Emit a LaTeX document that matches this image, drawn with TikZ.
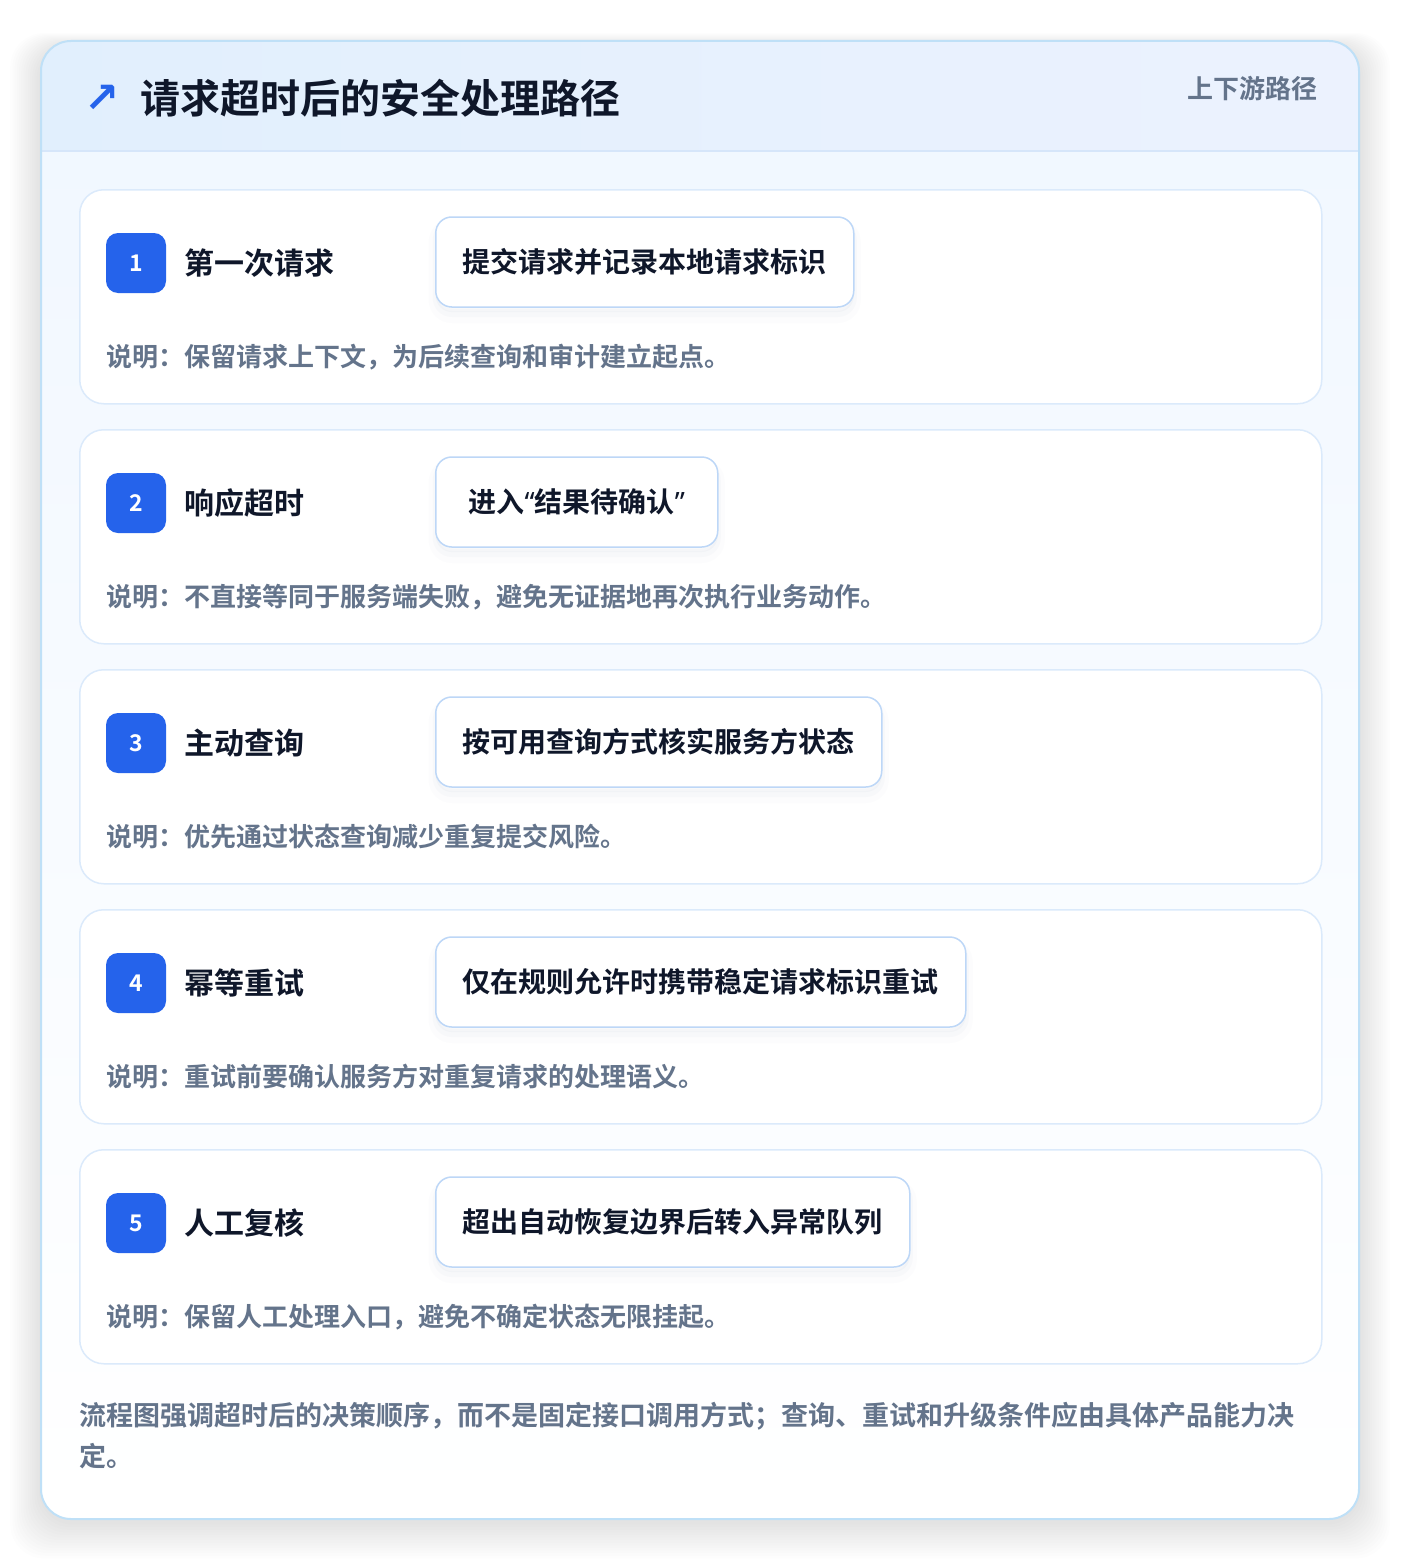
\documentclass[tikz,border=0pt]{standalone}
\usepackage{fontspec}
\setmainfont{Noto Sans CJK SC}[BoldFont={Noto Sans CJK SC Bold}]
\newfontfamily\quotefont{Noto Sans}
\newfontfamily\symfont{DejaVu Sans}
\usetikzlibrary{positioning}
\definecolor{ink}{HTML}{0F172A}
\definecolor{muted}{HTML}{64748B}
\definecolor{accent}{HTML}{2563EB}
\definecolor{frame}{HTML}{BFE0F7}
\definecolor{headl}{HTML}{E1EFFD}
\definecolor{headr}{HTML}{ECF2FE}
\definecolor{headline}{HTML}{D6E6FA}
\definecolor{bodytop}{HTML}{F0F7FF}
\definecolor{cardline}{HTML}{DBEAFB}
\definecolor{boxline}{HTML}{BDD7F7}
\definecolor{shadowc}{HTML}{94A3B8}
\newcommand{\fs}[2]{\fontsize{#1}{#2}\selectfont}
\newcommand{\qopen}{{\quotefont “}}
\newcommand{\qclose}{{\quotefont ”}}

\begin{document}
\begin{tikzpicture}[x=1pt,y=-1pt,
    cardbox/.style={draw=cardline,line width=1.5pt,fill=white,rounded corners=24pt,
        minimum width=1242pt,minimum height=214pt,anchor=north west},
    badge/.style={fill=accent,rounded corners=12pt,minimum size=60pt,inner sep=0pt,
        text=white,font=\bfseries\fs{23}{27}},
    steptitle/.style={anchor=west,inner sep=0pt,text=ink,font=\bfseries\fs{30}{36}},
    actbox/.style={draw=boxline,line width=1.5pt,fill=white,rounded corners=16pt,
        minimum height=90pt,inner xsep=0pt,text=ink,font=\bfseries\fs{28}{34},anchor=west,
        preaction={draw=shadowc,line width=14pt,opacity=.025,transform canvas={yshift=-9pt}},
        preaction={draw=shadowc,line width=6pt,opacity=.04,transform canvas={yshift=-7pt}},
        preaction={fill=shadowc,opacity=.06,transform canvas={yshift=-5pt}}},
    notetext/.style={anchor=west,inner sep=0pt,text=muted,font=\bfseries\fs{26}{31}}]
\useasboundingbox (0,0) rectangle (1400,1560);
\fill[white] (0,0) rectangle (1400,1560);
% soft shadow round the panel
\foreach \i in {1,...,14}
  \fill[black,opacity=0.007,rounded corners=34pt] (41-\i*2.2,47-\i*1) rectangle (1359+\i*2.2,1522+\i*2.6);
% panel and header
\shade[top color=bodytop,bottom color=white,rounded corners=30pt] (41,41) rectangle (1359,1519);
\begin{scope}
  \clip[rounded corners=30pt] (41,41) rectangle (1359,1519);
  \shade[left color=headl,right color=headr] (41,41) rectangle (1359,151);
  \draw[headline,line width=1.5pt] (41,151) -- (1359,151);
\end{scope}
\draw[frame,line width=2pt,rounded corners=30pt] (41,41) rectangle (1359,1519);

\node[text=accent,font=\symfont\bfseries\fs{42}{48},inner sep=0pt] (icon) at (102,99) {↗};
\node[anchor=west,inner sep=0pt,text=ink,font=\bfseries\fs{40}{48}] (title) at (140,98) {请求超时后的安全处理路径};
\node[anchor=east,inner sep=0pt,text=muted,font=\bfseries\fs{26}{31}] (tag) at (1318,89) {上下游路径};

% steps
\foreach \n/\head/\act/\actw/\note in {
    1/第一次请求/提交请求并记录本地请求标识/418/保留请求上下文，为后续查询和审计建立起点。,
    2/响应超时/进入\qopen 结果待确认\qclose/282/不直接等同于服务端失败，避免无证据地再次执行业务动作。,
    3/主动查询/按可用查询方式核实服务方状态/446/优先通过状态查询减少重复提交风险。,
    4/幂等重试/仅在规则允许时携带稳定请求标识重试/530/重试前要确认服务方对重复请求的处理语义。,
    5/人工复核/超出自动恢复边界后转入异常队列/474/保留人工处理入口，避免不确定状态无限挂起。}
{
  \pgfmathsetmacro\cardtop{189+240*(\n-1)}
  \node[cardbox] (card\n) at (79,\cardtop) {};
  \node[badge] (badge\n) at (136,\cardtop+74) {\n};
  \node[steptitle,right=18pt of badge\n] (step\n) {\head};
  \node[actbox,minimum width=\actw pt] (act\n) at (435,\cardtop+73) {\act};
  \node[notetext] (note\n) at (106,\cardtop+168) {说明：\note};
}

\node[anchor=north west,inner sep=0pt,text=muted,align=left,font=\bfseries\fs{27}{41}] (summary) at (79,1402)
  {流程图强调超时后的决策顺序，而不是固定接口调用方式；查询、重试和升级条件应由具体产品能力决\\定。};
\end{tikzpicture}
\end{document}
